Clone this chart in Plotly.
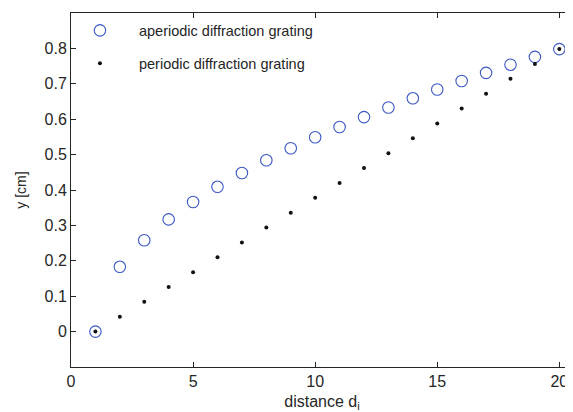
import plotly.graph_objects as go

x_vals = list(range(1, 21))
aperiodic_y = [0.0, 0.183, 0.258, 0.317, 0.366, 0.409, 0.448, 0.484, 0.518, 0.549,
               0.578, 0.606, 0.633, 0.659, 0.684, 0.708, 0.731, 0.754, 0.776, 0.798]
periodic_y = [0.0, 0.042, 0.084, 0.126, 0.168, 0.210, 0.252, 0.294, 0.336, 0.378,
              0.420, 0.462, 0.504, 0.546, 0.588, 0.630, 0.672, 0.714, 0.756, 0.798]
x_ticks = [0, 5, 10, 15, 20]
y_ticks = [0, 0.1, 0.2, 0.3, 0.4, 0.5, 0.6, 0.7, 0.8]

fig = go.Figure()
fig.add_trace(go.Scatter(
    x=x_vals, y=aperiodic_y, mode="markers", name="aperiodic diffraction grating",
    legendgroup="a",
    marker=dict(symbol="circle-open", size=11.5, color="#3a57c4", line=dict(width=1.1)),
))
fig.add_trace(go.Scatter(
    x=x_vals, y=periodic_y, mode="markers", name="periodic diffraction grating",
    legendgroup="b",
    marker=dict(symbol="circle", size=4, color="#111111"),
))

axis_font = dict(family="Liberation Sans, Arial, sans-serif", size=16, color="#262626")
fig.update_layout(
    width=565, height=404,
    margin=dict(l=63, r=0, t=5, b=45, autoexpand=False),
    paper_bgcolor="white", plot_bgcolor="white",
    font=dict(family="Liberation Sans, Arial, sans-serif", color="#262626"),
    showlegend=True,
    legend=dict(
        x=-0.02, y=0.996, xanchor="left", yanchor="top",
        bgcolor="rgba(0,0,0,0)", borderwidth=0,
        font=dict(size=14.5, color="#262626"),
        tracegroupgap=11, itemwidth=68,
    ),
    xaxis=dict(
        range=[0, 20.56], tickvals=x_ticks, ticktext=[str(v) for v in x_ticks],
        showgrid=False, zeroline=False, showline=True, linecolor="#262626", linewidth=1,
        mirror="ticks", ticks="inside", ticklen=5, tickcolor="#262626",
        tickfont=axis_font, automargin=False,
        title=dict(text="distance d<sub>i</sub>", font=dict(size=16, color="#262626"), standoff=6),
    ),
    yaxis=dict(
        range=[-0.1, 0.9], tickvals=y_ticks, ticktext=[("%g" % v) for v in y_ticks],
        showgrid=False, zeroline=False, showline=True, linecolor="#262626", linewidth=1,
        mirror=False, ticks="inside", ticklen=5, tickcolor="#262626",
        tickfont=axis_font, automargin=False,
        title=dict(text="y [cm]", font=dict(size=14, color="#262626"), standoff=14),
    ),
)

fig.write_html("out.html")
